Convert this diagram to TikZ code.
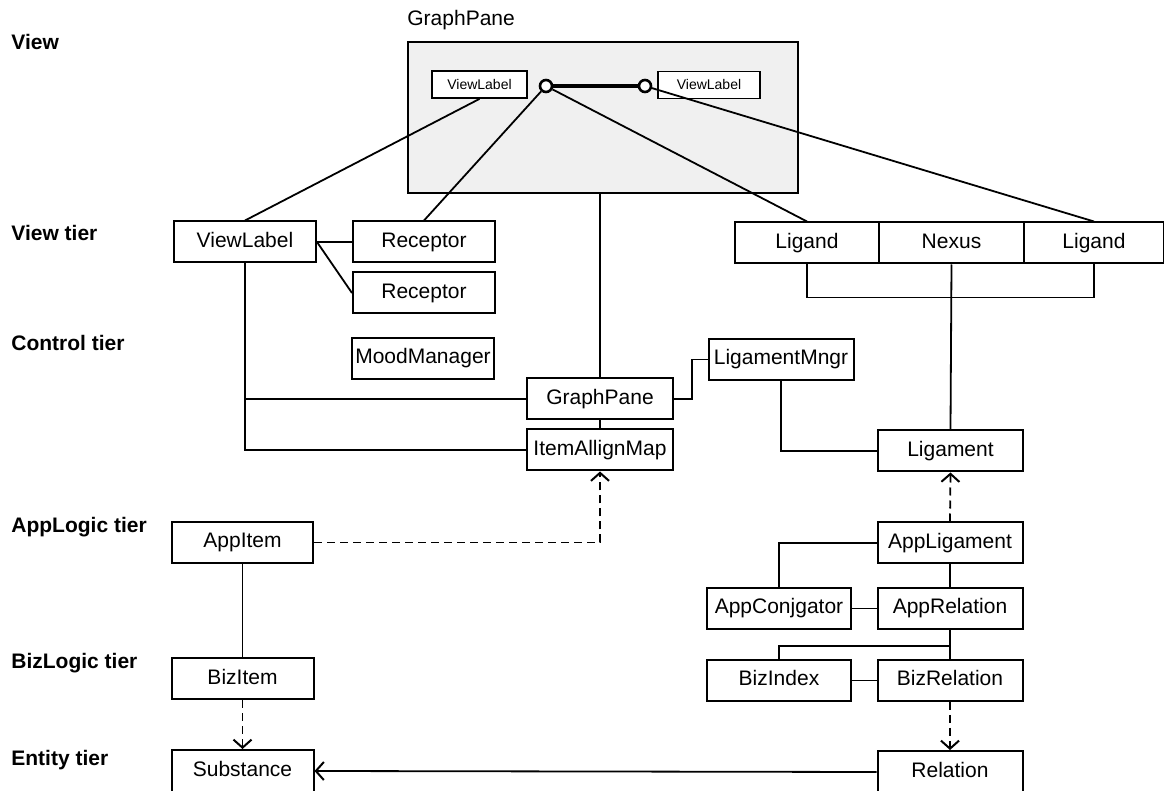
\documentclass[tikz,border=0pt]{standalone}
\usepackage{fontspec}
\setmainfont{Liberation Sans}
\usetikzlibrary{positioning,arrows.meta}

\tikzset{
  cls/.style={draw, line width=1pt, minimum width=72.5pt, minimum height=20.5pt,
    inner sep=0pt, text height=7.6pt, text depth=2.2pt, font=\fontsize{10.5}{12}\selectfont},
  tier/.style={anchor=west, inner sep=0pt, font=\fontsize{10.5}{12}\selectfont\bfseries},
  small/.style={draw, line width=0.9pt, minimum height=13.5pt, inner sep=0pt,
    font=\fontsize{7}{8}\selectfont},
  port/.style={circle, draw, line width=1.3pt, minimum size=6pt, inner sep=0pt, fill=white},
  link/.style={line width=0.9pt},
  dep/.style={line width=0.9pt, dash pattern=on 4pt off 2.5pt,
    -{Straight Barb[length=4pt,width=9pt,line width=1pt]}},
  nav/.style={line width=0.9pt, -{Straight Barb[length=4pt,width=9pt,line width=1pt]}}
}

\begin{document}
\begin{tikzpicture}[x=0.5pt, y=-0.5pt, node distance=25.5pt, on grid]
	\useasboundingbox (0,0) rectangle (1164,791);
	% tiers
	\node[tier] (tView) at (11,42) {View};
	\node[tier] (tViewTier) at (11,233) {View tier};
	\node[tier] (tControl) at (11,343) {Control tier};
	\node[tier] (tAppLogic) at (11,527) {AppLogic tier};
	\node[tier] (tBizLogic) at (11,663) {BizLogic tier};
	\node[tier] (tEntity) at (11,760) {Entity tier};

	% the pane as seen on screen
	\node[draw, line width=1pt, fill=black!6, minimum width=195pt, minimum height=75.5pt] (gpbox) at (603,117.5) {};
	\node[anchor=base west, inner sep=0pt, font=\fontsize{10.5}{12}\selectfont] (gptitle) at ([yshift=7.5pt]gpbox.north west) {GraphPane};
	\node[small, minimum width=47.5pt, fill=white] (ivlA) at (479.5,84.5) {ViewLabel};
	\node[small, minimum width=51pt, fill=white] (ivlB) at (709,85) {ViewLabel};
	\node[port] (pA) at (546,86) {};
	\node[port] (pB) at (645,86) {};
	\draw[line width=2pt] (pA) -- (pB);

	% view tier
	\node[cls, minimum width=71pt] (vl) at (245,242) {ViewLabel};
	\node[cls, minimum width=71pt] (rec1) at (424,242) {Receptor};
	\node[cls, minimum width=71pt] [below=of rec1] (rec2) {Receptor};
	\node[cls, minimum width=72pt] (ligL) at (807,243) {Ligand};
	\node[cls] [right=72.25pt of ligL] (nex) {Nexus};
	\node[cls, minimum width=70pt] [right=71.25pt of nex] (ligR) {Ligand};

	% control tier
	\node[cls, minimum width=71pt] (mood) at (423,358.5) {MoodManager};
	\node[cls, minimum width=73pt] (gp) at (600,399) {GraphPane};
	\node[cls, minimum width=73pt] [below=of gp] (iam) {ItemAllignMap};
	\node[cls] (lmgr) at (781,359.5) {LigamentMngr};
	\node[cls] (lig) at (950.5,451) {Ligament};

	% applogic tier
	\node[cls, minimum width=70.5pt] (appitem) at (242.5,542.5) {AppItem};
	\node[cls] (appl) at (950,543) {AppLigament};
	\node[cls] [below=32.75pt of appl] (apprel) {AppRelation};
	\node[cls, minimum width=72pt] [left=85.5pt of apprel] (conj) {AppConjgator};

	% bizlogic tier
	\node[cls, minimum width=71pt] (bizitem) at (242.5,679) {BizItem};
	\node[cls] [below=36pt of apprel] (bizrel) {BizRelation};
	\node[cls, minimum width=72pt] [left=85.5pt of bizrel] (bizidx) {BizIndex};

	% entity tier
	\node[cls, minimum width=71pt, minimum height=21pt] (subst) at (242.5,771) {Substance};
	\node[cls, minimum height=21pt] (rel) at (950,772) {Relation};

	% screen to view tier
	\draw[link] (ivlA.south) -- (vl.north);
	\draw[link] (pA) -- (rec1.north);
	\draw[link] (pA) -- (ligL.north);
	\draw[link] (pB) -- (ligR.north);
	\draw[link] (gp.north) -- (gp.north |- gpbox.south);

	% view tier
	\draw[link] (vl.east) -- (rec1.west);
	\draw[link] (vl.east) -- (rec2.west);
	\draw[link] (vl.south) |- (gp.west);
	\draw[link] (vl.south) |- (iam.west);
	\draw[link] (ligL.south) -- ++(0,33) -| (ligR.south);
	\draw[link] (nex.south) -- (lig.north);

	% control tier
	\draw[link] (gp.south) -- (iam.north);
	\draw[link] (gp.east) -- ++(18,0) |- (lmgr.west);
	\draw[link] (lmgr.south) |- (lig.west);

	% logic tiers
	\draw[dep] (appitem.east) -| (iam.south);
	\draw[link] (appitem.south) -- (bizitem.north);
	\draw[dep] (bizitem.south) -- (subst.north);
	\draw[dep] (appl.north) -- (lig.south);
	\draw[link] (appl.west) -| (conj.north);
	\draw[link] (appl.south) -- (apprel.north);
	\draw[link] (conj.east) -- (apprel.west);
	\draw[link] (apprel.south) -- (bizrel.north);
	\draw[link] (apprel.south) -- ++(0,16) -| (bizidx.north);
	\draw[link] (bizidx.east) -- (bizrel.west);
	\draw[dep] (bizrel.south) -- (rel.north);
	\draw[nav] (rel.west) -- (subst.east);
\end{tikzpicture}
\end{document}
